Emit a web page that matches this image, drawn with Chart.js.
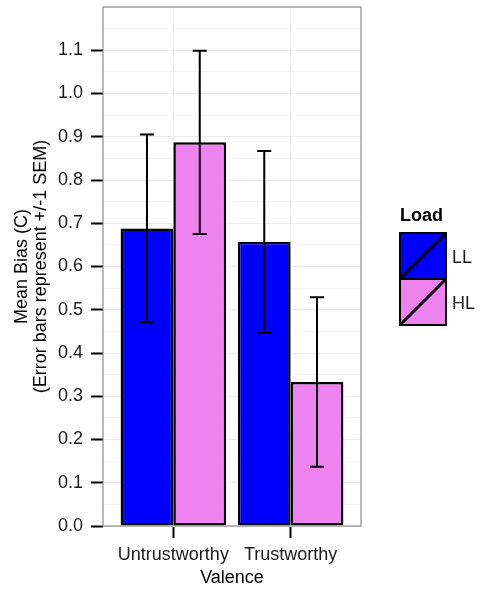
<!DOCTYPE html>
<html>
<head>
<meta charset="utf-8">
<script src="https://cdn.jsdelivr.net/npm/chart.js@4.4.1/dist/chart.umd.min.js"></script>
<style>
  html, body { margin: 0; padding: 0; background: #fff; }
  #wrap { width: 480px; height: 590px; position: relative; }
</style>
</head>
<body>
<div id="wrap"><canvas id="biasChart"></canvas></div>
<script>
const categories = ['Untrustworthy', 'Trustworthy'];
const loadLevels = ['LL', 'HL'];
const meanLL = [0.688, 0.657];
const meanHL = [0.887, 0.333];
const semLL = [0.217, 0.210];
const semHL = [0.212, 0.196];
const yTickLabels = ['0.0', '0.1', '0.2', '0.3', '0.4', '0.5', '0.6', '0.7', '0.8', '0.9', '1.0', '1.1'];

const fillColors = ['#0000FF', '#EE82EE'];
const FONT = 'Liberation Sans, Arial, sans-serif';

const isMajor = v => Math.abs(v * 10 - Math.round(v * 10)) < 1e-6;

// error bars, drawn from the dataset means +/- sem
const errorBars = {
  id: 'errorBars',
  afterDatasetsDraw(chart) {
    const ctx = chart.ctx;
    const y = chart.scales.y;
    chart.data.datasets.forEach((ds, i) => {
      const meta = chart.getDatasetMeta(i);
      meta.data.forEach((bar, j) => {
        const m = ds.data[j].y, s = ds.sem[j];
        const top = y.getPixelForValue(m + s);
        const bot = y.getPixelForValue(m - s);
        ctx.save();
        ctx.strokeStyle = '#000';
        ctx.lineWidth = 2;
        ctx.beginPath();
        ctx.moveTo(bar.x, top); ctx.lineTo(bar.x, bot);
        ctx.moveTo(bar.x - 7, top); ctx.lineTo(bar.x + 7, top);
        ctx.moveTo(bar.x - 7, bot); ctx.lineTo(bar.x + 7, bot);
        ctx.stroke();
        ctx.restore();
      });
    });
  }
};

// grey panel border like theme_bw
const panelBorder = {
  id: 'panelBorder',
  afterDraw(chart) {
    const a = chart.chartArea, ctx = chart.ctx;
    ctx.save();
    ctx.strokeStyle = '#8c8c8c';
    ctx.lineWidth = 1.2;
    ctx.strokeRect(a.left, a.top, a.right - a.left, a.bottom - a.top);
    ctx.restore();
  }
};

// legend with diagonal slash keys
const loadLegend = {
  id: 'loadLegend',
  afterDraw(chart) {
    const ctx = chart.ctx;
    const x0 = 400, y0 = 233, size = 46;
    ctx.save();
    ctx.fillStyle = '#000';
    ctx.font = 'bold 18px ' + FONT;
    ctx.textBaseline = 'middle';
    ctx.textAlign = 'left';
    ctx.fillText('Load', 400, 216);
    chart.data.datasets.forEach((ds, i) => {
      const ky = y0 + i * size;
      ctx.fillStyle = ds.backgroundColor;
      ctx.fillRect(x0, ky, size, size);
      ctx.strokeStyle = '#000';
      ctx.lineWidth = 2;
      ctx.strokeRect(x0, ky, size, size);
      ctx.lineWidth = 3;
      ctx.beginPath();
      ctx.moveTo(x0 + 1, ky + size - 1);
      ctx.lineTo(x0 + size - 1, ky + 1);
      ctx.stroke();
      ctx.fillStyle = '#1a1a1a';
      ctx.font = '18px ' + FONT;
      ctx.fillText(ds.label, 452, ky + size / 2 + 2);
    });
    ctx.restore();
  }
};

const ctx = document.getElementById('biasChart').getContext('2d');

new Chart(ctx, {
  type: 'bar',
  data: {
    datasets: [
      {
        label: loadLevels[0],
        data: meanLL.map((v, i) => ({ x: i + 1, y: v })),
        sem: semLL,
        backgroundColor: fillColors[0],
        borderColor: '#000',
        borderWidth: 2.5,
        borderSkipped: false
      },
      {
        label: loadLevels[1],
        data: meanHL.map((v, i) => ({ x: i + 1, y: v })),
        sem: semHL,
        backgroundColor: fillColors[1],
        borderColor: '#000',
        borderWidth: 2.5,
        borderSkipped: false
      }
    ]
  },
  options: {
    responsive: true,
    maintainAspectRatio: false,
    animation: false,
    categoryPercentage: 0.9,
    barPercentage: 1.0,
    layout: { padding: { top: 7, right: 119, left: 0, bottom: 0 } },
    plugins: { legend: { display: false }, tooltip: { enabled: false } },
    scales: {
      x: {
        type: 'linear',
        min: 0.4,
        max: 2.6,
        offset: false,
        afterBuildTicks: s => { s.ticks = categories.map((c, i) => ({ value: i + 1 })); },
        afterFit: s => { s.height = 64; s.paddingLeft = 0; s.paddingRight = 0; },
        border: { display: false },
        grid: {
          offset: false,
          color: '#ebebeb',
          lineWidth: 1,
          tickColor: '#000',
          tickLength: 12,
          tickWidth: 2
        },
        ticks: {
          autoSkip: false,
          maxRotation: 0,
          padding: 6,
          color: '#1a1a1a',
          font: { family: FONT, size: 18 },
          callback: v => categories[Math.round(v) - 1] || ''
        },
        title: {
          display: true,
          text: 'Valence',
          color: '#000',
          font: { family: FONT, size: 18, lineHeight: 1.2 },
          padding: { top: 0, bottom: 1 }
        }
      },
      y: {
        min: 0,
        max: 1.2,
        afterFit: s => { s.width = 103; s.paddingTop = 0; s.paddingBottom = 0; },
        border: { display: false },
        grid: {
          color: c => isMajor(c.tick.value) ? '#ebebeb' : '#f5f5f5',
          lineWidth: 1,
          tickColor: c => (isMajor(c.tick.value) && c.tick.value < 1.15) ? '#000' : 'rgba(0,0,0,0)',
          tickLength: 12,
          tickWidth: 2
        },
        ticks: {
          stepSize: 0.05,
          autoSkip: false,
          padding: 8,
          color: '#1a1a1a',
          font: { family: FONT, size: 18 },
          callback: v => isMajor(v) ? (yTickLabels[Math.round(v * 10)] || '') : ''
        },
        title: {
          display: true,
          text: ['Mean Bias (C)', '(Error bars represent +/-1 SEM)'],
          color: '#000',
          font: { family: FONT, size: 18, lineHeight: 1.05 },
          padding: { top: 13, bottom: 0 }
        }
      }
    }
  },
  plugins: [errorBars, panelBorder, loadLegend]
});
</script>
</body>
</html>
